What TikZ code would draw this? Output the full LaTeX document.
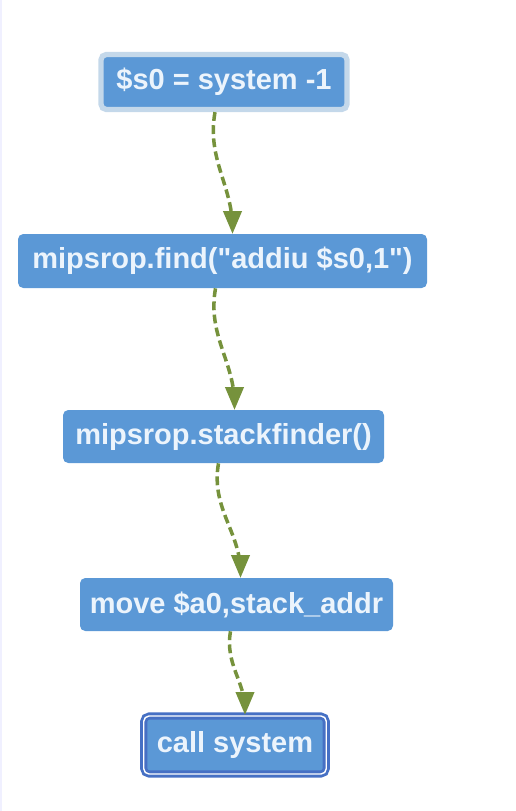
\documentclass[tikz,border=0pt]{standalone}
\usepackage{fontspec}
\setmainfont{Liberation Sans}[Ligatures=TeXOff]
\usepackage{xcolor}
\usetikzlibrary{arrows,shapes,positioning}

\definecolor{boxblue}{RGB}{91,152,214}
\definecolor{halo}{RGB}{196,216,234}
\definecolor{edgeblue}{RGB}{70,112,196}
\definecolor{flowgreen}{RGB}{118,146,60}
\definecolor{txtwhite}{RGB}{236,244,252}

\tikzset{
  stepbox/.style={rectangle,fill=boxblue,rounded corners=3pt,inner sep=2pt,
    text=txtwhite,font=\bfseries\fontsize{16.5}{18}\selectfont},
  flow/.style={->,>=triangle 45,draw=flowgreen,line width=2pt,
    dash pattern=on 5pt off 2.5pt}
}

\begin{document}
\begin{tikzpicture}
\useasboundingbox (0,0) rectangle (10.3,-16.22);
\fill[blue!6] (0,0) rectangle (0.04,-16.22);

% chain of steps
\node[stepbox,draw=halo,line width=3pt,minimum width=4.92cm,minimum height=1.1cm] (s0) at (4.48,-1.64) {\$s0 = system -1};
\node[stepbox,minimum width=8.18cm,minimum height=1.08cm] (find) at (4.45,-5.22) {mipsrop.find("addiu \$s0,1")};
\node[stepbox,minimum width=6.42cm,minimum height=1.06cm] (stack) at (4.47,-8.73) {mipsrop.stackfinder()};
\node[stepbox,minimum width=6.26cm,minimum height=1.06cm] (move) at (4.73,-12.09) {move \$a0,stack\_addr};
\node[stepbox,draw=edgeblue,double=white,double distance=0.8pt,line width=1.6pt,minimum width=3.65cm,minimum height=1.16cm] (call) at (4.70,-14.90) {call system};

\draw[flow] ([xshift=-0.18cm]s0.south) to[out=-100,in=90] ([xshift=0.2cm]find.north);
\draw[flow] ([xshift=-0.14cm]find.south) to[out=-100,in=90] ([xshift=0.22cm]stack.north);
\draw[flow] ([xshift=-0.1cm]stack.south) to[out=-100,in=90] ([xshift=0.08cm]move.north);
\draw[flow] ([xshift=-0.12cm]move.south) to[out=-100,in=90] ([xshift=0.2cm]call.north);

\end{tikzpicture}
\end{document}
